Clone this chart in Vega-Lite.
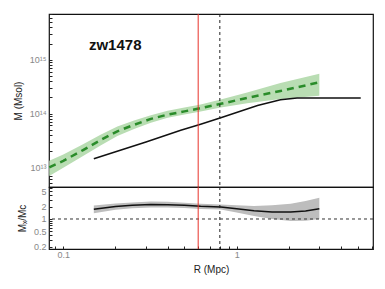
{
  "$schema": "https://vega.github.io/schema/vega-lite/v6.json",
  "padding": {"left": 12, "top": 12, "right": 5, "bottom": 5},
  "config": {
    "font": "Liberation Sans",
    "view": {"stroke": "#111", "strokeWidth": 1.2},
    "axis": {"domain": false, "grid": false, "labelColor": "#888", "labelFontSize": 9, "titleFontWeight": "normal", "titleFontSize": 10, "titleColor": "#222", "tickColor": "#222", "labelFont": "Liberation Sans", "titleFont": "Liberation Sans"},
    "concat": {"spacing": 0}
  },
  "spacing": 0,
  "bounds": "flush",
  "datasets": {
    "green": [
      {"R": 0.083, "M": 1.0e13, "lo": 6.92e12, "hi": 1.318e13},
      {"R": 0.1, "M": 1.318e13, "lo": 9.77e12, "hi": 1.738e13},
      {"R": 0.13, "M": 2.089e13, "lo": 1.622e13, "hi": 2.692e13},
      {"R": 0.165, "M": 3.236e13, "lo": 2.570e13, "hi": 4.074e13},
      {"R": 0.205, "M": 4.677e13, "lo": 3.802e13, "hi": 5.754e13},
      {"R": 0.256, "M": 6.166e13, "lo": 5.129e13, "hi": 7.413e13},
      {"R": 0.32, "M": 7.943e13, "lo": 6.761e13, "hi": 9.333e13},
      {"R": 0.40, "M": 9.550e13, "lo": 8.318e13, "hi": 1.122e14},
      {"R": 0.50, "M": 1.096e14, "lo": 9.550e13, "hi": 1.288e14},
      {"R": 0.62, "M": 1.259e14, "lo": 1.096e14, "hi": 1.479e14},
      {"R": 0.81, "M": 1.514e14, "lo": 1.288e14, "hi": 1.820e14},
      {"R": 1.15, "M": 1.950e14, "lo": 1.549e14, "hi": 2.455e14},
      {"R": 1.79, "M": 2.630e14, "lo": 1.862e14, "hi": 3.715e14},
      {"R": 3.0, "M": 3.802e14, "lo": 2.138e14, "hi": 5.495e14}
    ],
    "black": [
      {"R": 0.15, "M": 1.445e13},
      {"R": 0.3, "M": 2.951e13},
      {"R": 0.476, "M": 4.90e13},
      {"R": 0.62, "M": 6.31e13},
      {"R": 0.81, "M": 8.318e13},
      {"R": 1.32, "M": 1.413e14},
      {"R": 1.79, "M": 1.80e14},
      {"R": 2.23, "M": 1.95e14},
      {"R": 5.2, "M": 1.95e14}
    ],
    "ratio": [
      {"R": 0.15, "v": 1.74, "lo": 1.40, "hi": 2.16},
      {"R": 0.2, "v": 2.05, "lo": 1.70, "hi": 2.45},
      {"R": 0.25, "v": 2.20, "lo": 1.86, "hi": 2.60},
      {"R": 0.32, "v": 2.30, "lo": 1.95, "hi": 2.72},
      {"R": 0.4, "v": 2.28, "lo": 1.94, "hi": 2.68},
      {"R": 0.5, "v": 2.19, "lo": 1.87, "hi": 2.56},
      {"R": 0.62, "v": 2.07, "lo": 1.78, "hi": 2.40},
      {"R": 0.81, "v": 1.99, "lo": 1.72, "hi": 2.30},
      {"R": 1.0, "v": 1.80, "lo": 1.45, "hi": 2.20},
      {"R": 1.26, "v": 1.60, "lo": 1.19, "hi": 2.11},
      {"R": 1.6, "v": 1.50, "lo": 1.00, "hi": 2.20},
      {"R": 2.05, "v": 1.50, "lo": 0.89, "hi": 2.41},
      {"R": 2.5, "v": 1.58, "lo": 0.90, "hi": 2.80},
      {"R": 3.0, "v": 1.80, "lo": 1.00, "hi": 3.40}
    ],
    "label": [{"R": 0.1406, "M": 1.92e15, "text": "zw1478"}],
    "red": [{"R": 0.6}],
    "dashed": [{"R": 0.8}],
    "one": [{"v": 1}]
  },
  "vconcat": [
    {
      "width": 324,
      "height": 173,
      "encoding": {
        "x": {"type": "quantitative", "title": null,
          "scale": {"type": "log", "domain": [0.0827, 6.12], "nice": false},
          "axis": null},
        "y": {"type": "quantitative", "title": "M  (Msol)",
          "scale": {"type": "log", "domain": [4.3e12, 7.1e15], "nice": false},
          "axis": {"title": "M  (Msol)", "titlePadding": 6,
            "values": [5e12, 6e12, 7e12, 8e12, 9e12, 1e13, 2e13, 3e13, 4e13, 5e13, 6e13, 7e13, 8e13, 9e13, 1e14, 2e14, 3e14, 4e14, 5e14, 6e14, 7e14, 8e14, 9e14, 1e15, 2e15, 3e15, 4e15, 5e15, 6e15, 7e15],
            "labelExpr": "datum.value === 1e13 ? '10¹³' : datum.value === 1e14 ? '10¹⁴' : datum.value === 1e15 ? '10¹⁵' : ''",
            "tickSize": -3, "labelPadding": 6}}
      },
      "layer": [
        {
          "data": {"name": "green"},
          "mark": {"type": "area", "color": "#b9ddb3"},
          "encoding": {
            "x": {"field": "R"},
            "y": {"field": "lo"},
            "y2": {"field": "hi"}
          }
        },
        {
          "data": {"name": "green"},
          "mark": {"type": "line", "color": "#2a8c2a", "strokeWidth": 2.5, "strokeDash": [7, 5]},
          "encoding": {
            "x": {"field": "R"},
            "y": {"field": "M"}
          }
        },
        {
          "data": {"name": "black"},
          "mark": {"type": "line", "color": "#111", "strokeWidth": 1.5},
          "encoding": {
            "x": {"field": "R"},
            "y": {"field": "M"}
          }
        },
        {
          "data": {"name": "red"},
          "mark": {"type": "rule", "color": "#e8322a", "strokeWidth": 1},
          "encoding": {"x": {"field": "R"}, "y": null}
        },
        {
          "data": {"name": "dashed"},
          "mark": {"type": "rule", "color": "#222", "strokeWidth": 1, "strokeDash": [3, 3]},
          "encoding": {"x": {"field": "R"}, "y": null}
        },
        {
          "data": {"name": "label"},
          "mark": {"type": "text", "align": "left", "baseline": "middle", "fontSize": 15, "fontWeight": "bold", "font": "Liberation Sans", "color": "#111"},
          "encoding": {
            "x": {"field": "R"},
            "y": {"field": "M"},
            "text": {"field": "text"}
          }
        }
      ]
    },
    {
      "width": 324,
      "height": 62,
      "encoding": {
        "x": {"type": "quantitative", "title": "R  (Mpc)",
          "scale": {"type": "log", "domain": [0.0827, 6.12], "nice": false},
          "axis": {"title": "R  (Mpc)", "titlePadding": 5,
            "values": [0.09, 0.1, 0.2, 0.3, 0.4, 0.5, 0.6, 0.7, 0.8, 0.9, 1, 2, 3, 4, 5, 6],
            "labelExpr": "datum.value === 0.1 ? '0.1' : datum.value === 1 ? '1' : ''",
            "tickSize": -3, "labelPadding": 4}},
        "y": {"type": "quantitative", "title": "Mₓ/Mc",
          "scale": {"type": "log", "domain": [0.178, 6.3], "nice": false},
          "axis": {"title": "Mₓ/Mc", "titlePadding": 6,
            "values": [0.2, 0.3, 0.4, 0.5, 0.6, 0.7, 0.8, 0.9, 1, 2, 3, 4, 5, 6],
            "labelExpr": "indexof([0.2, 0.5, 1, 2, 5], datum.value) >= 0 ? datum.label : ''",
            "tickSize": -3, "labelPadding": 6}}
      },
      "layer": [
        {
          "data": {"name": "ratio"},
          "mark": {"type": "area", "color": "#bdbdbd"},
          "encoding": {
            "x": {"field": "R"},
            "y": {"field": "lo"},
            "y2": {"field": "hi"}
          }
        },
        {
          "data": {"name": "ratio"},
          "mark": {"type": "line", "color": "#111", "strokeWidth": 1.5},
          "encoding": {
            "x": {"field": "R"},
            "y": {"field": "v"}
          }
        },
        {
          "data": {"name": "one"},
          "mark": {"type": "rule", "color": "#333", "strokeWidth": 1, "strokeDash": [3, 3]},
          "encoding": {"y": {"field": "v"}, "x": null}
        },
        {
          "data": {"name": "red"},
          "mark": {"type": "rule", "color": "#e8322a", "strokeWidth": 1},
          "encoding": {"x": {"field": "R"}, "y": null}
        },
        {
          "data": {"name": "dashed"},
          "mark": {"type": "rule", "color": "#222", "strokeWidth": 1, "strokeDash": [3, 3]},
          "encoding": {"x": {"field": "R"}, "y": null}
        }
      ]
    }
  ]
}
